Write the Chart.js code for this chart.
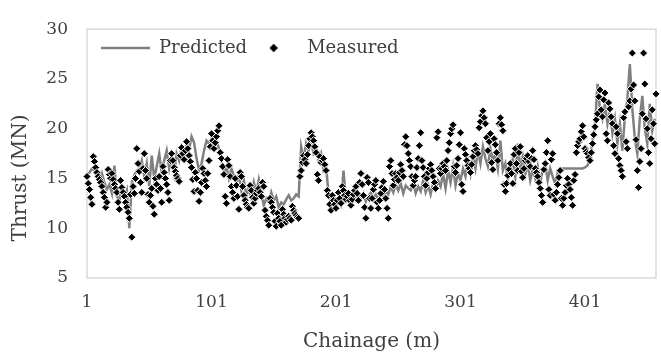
<!DOCTYPE html>
<html>
<head>
<meta charset="UTF-8">
<title>Thrust vs chainage</title>
<script src="https://cdn.jsdelivr.net/npm/chart.js"></script>
<style>
  html, body { margin: 0; padding: 0; background: #fff; }
  #wrap { width: 661px; height: 360px; }
</style>
</head>
<body>
<div id="wrap"><canvas id="chart"></canvas></div>
<script>
  // measured: one reading per metre from chainage 1; predicted: one value every 2 m
  const measuredStart = 1, measuredStep = 1;
  const predictedStart = 1, predictedStep = 2;

  const measured = [
    15.2, 14.5, 13.9, 13.1, 12.4, 17.2, 16.7, 16.1, 15.6, 15.2, 14.9, 14.6, 14.2, 13.6, 13.1, 12.1, 12.6, 15.9, 15.4, 15.0,
    15.5, 14.9, 14.4, 14.0, 13.6, 12.6, 11.9, 14.8, 14.1, 13.6, 13.2, 12.6, 12.1, 11.6, 11.0, 13.4, 9.1, 14.2, 13.5, 15.0,
    18.0, 16.5, 15.7, 14.6, 13.6, 16.0, 17.5, 15.8, 15.0, 13.4, 12.6, 13.3, 14.0, 12.2, 11.4, 15.0, 14.4, 13.8, 15.2, 14.0,
    12.6, 16.2, 15.6, 15.0, 14.4, 13.6, 12.8, 16.8, 17.5, 16.8, 16.1, 15.7, 15.3, 15.0, 14.7, 17.3, 18.1, 17.5, 16.9, 17.8,
    18.7, 18.0, 17.3, 16.7, 16.1, 14.9, 13.7, 15.6, 15.0, 13.8, 12.7, 13.6, 14.6, 16.0, 15.5, 14.8, 14.2, 15.5, 16.8, 18.2,
    19.5, 18.8, 18.0, 18.6, 19.2, 19.8, 20.3, 17.6, 17.0, 16.2, 15.4, 13.2, 12.5, 16.9, 16.3, 15.2, 14.2, 13.6, 13.0, 15.0,
    14.3, 13.2, 11.9, 15.6, 15.2, 14.2, 13.3, 12.8, 12.4, 12.1, 12.0, 14.3, 13.8, 13.1, 12.5, 13.0, 13.5, 13.8, 14.0, 13.6,
    13.2, 14.6, 14.2, 11.8, 11.2, 10.8, 10.3, 13.0, 12.6, 12.1, 11.6, 10.7, 10.2, 11.5, 11.0, 10.7, 10.3, 11.9, 11.4, 11.0,
    10.6, 10.9, 11.2, 11.0, 10.8, 12.2, 11.8, 11.5, 11.3, 11.1, 11.0, 15.2, 15.8, 16.6, 17.3, 16.9, 16.5, 17.4, 18.3, 19.0,
    19.6, 19.2, 18.8, 18.2, 17.6, 15.4, 14.8, 17.2, 16.6, 16.8, 17.0, 16.4, 15.8, 13.8, 13.3, 12.4, 11.8, 13.3, 12.8, 12.4,
    12.0, 12.8, 13.6, 13.0, 12.5, 14.2, 13.8, 13.3, 12.9, 13.2, 13.5, 12.8, 12.3, 12.9, 13.4, 13.8, 14.2, 13.5, 12.8, 14.6,
    15.5, 14.4, 13.3, 12.1, 11.0, 15.1, 14.6, 13.0, 12.0, 13.0, 13.9, 14.4, 14.8, 12.6, 12.0, 12.8, 13.5, 14.1, 14.7, 13.9,
    13.0, 12.0, 11.0, 16.2, 16.8, 15.5, 14.3, 14.9, 15.5, 15.1, 14.8, 15.6, 16.4, 15.8, 15.2, 18.4, 19.2, 18.3, 17.5, 16.8,
    16.2, 15.2, 14.3, 14.8, 15.2, 16.1, 17.0, 18.3, 19.6, 16.8, 16.1, 15.2, 14.3, 15.0, 15.6, 16.0, 16.4, 15.8, 15.2, 14.6,
    14.0, 19.1, 19.7, 16.0, 15.5, 16.0, 16.5, 16.2, 15.8, 16.8, 17.8, 18.6, 19.5, 20.0, 20.4, 16.2, 15.6, 16.3, 17.0, 18.4,
    19.6, 14.4, 13.7, 18.0, 17.4, 16.8, 16.3, 16.0, 15.6, 16.4, 17.2, 17.8, 18.3, 17.9, 17.5, 20.1, 20.7, 21.3, 21.8, 21.1,
    20.5, 19.1, 17.8, 18.7, 19.5, 16.6, 15.9, 19.0, 18.4, 17.6, 16.8, 20.5, 21.1, 20.4, 19.8, 14.4, 13.7, 14.5, 15.3, 15.9,
    16.5, 15.5, 14.5, 17.4, 18.0, 16.5, 15.8, 17.6, 18.2, 15.7, 15.1, 16.0, 16.8, 17.0, 17.3, 16.7, 16.2, 17.0, 17.8, 16.9,
    16.0, 15.6, 15.2, 14.6, 14.0, 13.3, 12.6, 15.9, 16.5, 17.6, 18.8, 13.9, 13.3, 16.9, 17.5, 13.4, 12.8, 13.6, 14.4, 15.1,
    15.8, 13.0, 12.3, 13.0, 13.6, 14.3, 15.0, 14.4, 13.9, 13.1, 12.3, 14.8, 15.4, 17.6, 18.3, 18.7, 19.0, 19.7, 20.3, 19.2,
    18.0, 17.7, 17.5, 17.1, 16.8, 17.6, 18.5, 19.4, 20.2, 20.9, 21.5, 23.2, 23.9, 21.9, 21.2, 22.9, 23.6, 19.5, 18.8, 22.6,
    22.0, 21.2, 20.5, 18.3, 17.5, 20.2, 19.5, 17.0, 16.3, 15.8, 15.2, 21.1, 21.7, 18.7, 18.0, 22.2, 22.8, 24.0, 27.6, 24.4,
    22.8, 18.9, 15.8, 14.1, 16.7, 18.0, 21.5, 27.6, 24.5, 21.0, 20.0, 17.6, 16.5, 19.0, 21.9, 20.5, 18.5, 23.5
  ];

  const predicted = [
    15.3, 15.6, 16.0, 15.8, 15.2, 14.8, 15.5, 14.6, 13.9, 14.4,
    13.5, 16.3, 13.2, 12.8, 14.2, 13.0, 13.8, 10.0, 14.6, 15.3,
    15.8, 16.0, 16.8, 15.2, 16.5, 14.2, 17.3, 15.0, 16.2, 17.5,
    15.6, 16.8, 17.8, 16.0, 17.2, 15.5, 17.5, 16.8, 18.2, 17.6,
    18.5, 17.9, 19.2, 18.6, 17.0, 15.8, 16.5, 17.8, 18.8, 18.5,
    19.0, 18.2, 18.8, 18.0, 16.8, 15.5, 16.2, 15.0, 16.0, 15.2,
    14.5, 15.4, 13.8, 14.8, 13.2, 14.1, 13.0, 14.6, 13.6, 14.9,
    13.5, 12.3, 13.0, 12.6, 13.6, 12.8, 13.2, 12.1, 12.6, 12.4,
    12.9, 13.3, 12.8, 13.0, 13.4, 13.2, 18.2, 17.0, 18.5, 17.8,
    18.8, 17.5, 17.9, 16.8, 17.5, 15.8, 16.2, 13.5, 12.8, 13.2,
    12.6, 13.0, 12.4, 15.8, 12.9, 13.2, 12.5, 13.4, 12.8, 13.3,
    12.9, 13.5, 12.7, 13.2, 13.6, 13.0, 13.4, 12.8, 13.5, 13.2,
    13.7, 13.4, 14.2, 13.6, 14.4, 13.8, 14.5, 13.5, 14.3, 14.0,
    13.8, 14.6, 13.5, 14.2, 13.7, 14.8, 13.6, 14.3, 13.4, 14.5,
    13.9, 14.8, 14.2, 15.5, 14.0, 15.8, 14.6, 16.2, 14.3, 15.5,
    14.8, 16.0, 15.2, 16.8, 15.5, 17.3, 16.0, 17.8, 16.5, 18.2,
    17.0, 16.2, 18.0, 16.8, 17.5, 16.0, 18.8, 15.8, 16.5, 14.9,
    15.8, 17.0, 15.2, 18.5, 16.0, 17.2, 15.4, 16.5, 14.8, 15.9,
    15.0, 16.2, 14.6, 15.8, 16.5, 14.8, 16.0, 15.2, 14.5, 15.6,
    15.8, 16.0, 16.0, 16.0, 16.0, 16.0, 16.0, 16.0, 16.0, 16.0,
    16.1, 16.3, 17.0, 18.8, 20.2, 24.5, 22.0, 21.0, 22.5, 20.5,
    21.8, 19.5, 21.0, 18.5, 20.5, 17.8, 21.2, 23.0, 26.5, 22.0,
    19.0, 17.5, 21.0, 23.3, 20.0, 18.5, 22.5, 19.8, 21.0
  ];

  const xMin = 1, xMax = 458;
  const xTickLabels = ['1', '101', '201', '301', '401'];
  const yTicks = [5, 10, 15, 20, 25, 30];
  const xTitle = 'Chainage (m)';
  const yTitle = 'Thrust (MN)';

  const measuredPts = measured.map((v, i) => ({ x: measuredStart + i * measuredStep, y: v }));
  const predictedPts = predicted.map((v, i) => ({ x: predictedStart + i * predictedStep, y: v }));

  const textColor = '#404040';
  const frameColor = '#d9d9d9';
  Chart.defaults.font.family = '"DejaVu Serif", serif';
  Chart.defaults.color = textColor;

  // small diamond for the legend (rectRot would be stretched by pointStyleWidth)
  const legendDiamond = document.createElement('canvas');
  legendDiamond.width = 10;
  legendDiamond.height = 10;
  (function () {
    const c = legendDiamond.getContext('2d');
    c.fillStyle = '#000';
    c.beginPath();
    c.moveTo(5, 0.8); c.lineTo(9.2, 5); c.lineTo(5, 9.2); c.lineTo(0.8, 5);
    c.closePath();
    c.fill();
  })();

  // legend sits inside the plot, so it takes no room in the layout
  const legendInside = {
    id: 'legendInside',
    beforeUpdate(chart) {
      const lg = chart.legend;
      if (lg && !lg._inside) {
        const fit = lg.fit.bind(lg);
        lg.fit = function () { fit(); this._fitH = this.height; this.height = 0; };
        lg._inside = true;
      }
    },
    afterLayout(chart) {
      const lg = chart.legend;
      lg.left = 99;
      lg.right = 99 + 600;
      lg.top = 37;
      lg.bottom = 37 + (lg._fitH || 40);
    }
  };

  const frame = {
    id: 'frame',
    beforeDatasetsDraw(chart) {
      const { ctx, chartArea: a } = chart;
      ctx.save();
      ctx.strokeStyle = frameColor;
      ctx.lineWidth = 1.5;
      ctx.strokeRect(a.left, a.top, a.right - a.left, a.bottom - a.top);
      ctx.restore();
    }
  };

  const yTitlePlugin = {
    id: 'yTitlePlugin',
    afterDraw(chart) {
      const ctx = chart.ctx;
      ctx.save();
      ctx.translate(21, 178);
      ctx.rotate(-Math.PI / 2);
      ctx.font = '20px "DejaVu Serif"';
      ctx.fillStyle = textColor;
      ctx.textAlign = 'center';
      ctx.textBaseline = 'middle';
      ctx.fillText(yTitle, 0, 0);
      ctx.restore();
    }
  };

  new Chart(document.getElementById('chart'), {
    type: 'line',
    data: {
      datasets: [{
        label: 'Predicted',
        data: predictedPts,
        borderColor: '#808080',
        backgroundColor: '#808080',
        borderWidth: 2.5,
        pointRadius: 0,
        pointStyle: 'line',
        tension: 0,
        order: 1
      }, {
        label: 'Measured',
        data: measuredPts,
        showLine: false,
        pointStyle: 'rectRot',
        pointRadius: 4,
        backgroundColor: '#000000',
        borderColor: '#ffffff',
        borderWidth: 1,
        clip: 8,
        order: 0
      }]
    },
    options: {
      responsive: true,
      maintainAspectRatio: false,
      animation: false,
      layout: { padding: { top: 21, right: 1, left: 0, bottom: 0 } },
      plugins: {
        legend: {
          position: 'top',
          align: 'start',
          labels: {
            usePointStyle: true,
            pointStyleWidth: 49,
            boxHeight: 6,
            padding: 2,
            color: textColor,
            font: { size: 18 },
            sort: (a, b) => a.datasetIndex - b.datasetIndex,
            generateLabels(chart) {
              const items = Chart.defaults.plugins.legend.labels.generateLabels(chart);
              items.forEach(it => { if (it.datasetIndex === 1) it.pointStyle = legendDiamond; });
              return items;
            }
          }
        },
        tooltip: { enabled: false }
      },
      scales: {
        x: {
          type: 'linear',
          min: xMin,
          max: xMax,
          grid: { display: false, drawTicks: false },
          border: { display: false },
          afterBuildTicks(s) { s.ticks = xTickLabels.map(t => ({ value: Number(t) })); },
          ticks: {
            autoSkip: false,
            maxRotation: 0,
            padding: 14,
            font: { size: 17 },
            callback: v => String(v)
          },
          title: { display: true, text: xTitle, font: { size: 20 }, padding: { top: 0, bottom: 6 } },
          afterFit(s) { s.height = 82; }
        },
        y: {
          min: yTicks[0],
          max: yTicks[yTicks.length - 1],
          grid: { display: false, drawTicks: false },
          border: { display: false },
          ticks: { stepSize: 5, padding: 19, font: { size: 17 } },
          afterFit(s) { s.width = 87; }
        }
      }
    },
    plugins: [legendInside, frame, yTitlePlugin]
  });
</script>
</body>
</html>
